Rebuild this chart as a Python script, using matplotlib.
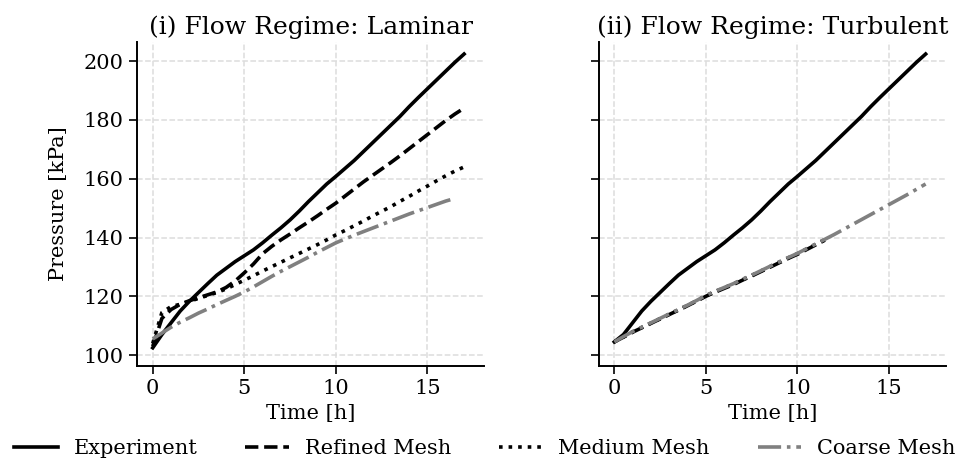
import matplotlib.pyplot as plt
import numpy as np

plt.rcParams['font.family'] = 'DejaVu Serif'

# Time axis [h], 0.5 h steps
time = np.arange(0, 17.5, 0.5)

# Measured pressure [kPa] (same run for both regimes, start value differs)
exp_laminar = [102.5, 107.0, 111.0, 115.0, 118.3, 121.3, 124.3, 127.2, 129.5, 131.8,
               133.8, 135.8, 138.2, 140.8, 143.3, 146.0, 149.0, 152.2, 155.2, 158.2,
               160.8, 163.5, 166.2, 169.2, 172.2, 175.2, 178.2, 181.2, 184.5, 187.6,
               190.6, 193.6, 196.6, 199.6, 202.4]
exp_turbulent = [104.5] + exp_laminar[1:]

# Laminar simulations
refined_laminar = [103.0, 112.5, 115.5, 117.3, 118.5, 119.5, 120.5, 121.5, 123.0, 125.2,
                   128.0, 131.0, 134.5, 137.0, 139.2, 141.2, 143.3, 145.3, 147.4, 149.6,
                   151.7, 154.1, 156.5, 158.9, 161.1, 163.3, 165.5, 167.8, 170.2, 172.6,
                   175.0, 177.4, 179.8, 182.0, 184.0]
medium_laminar = [104.0, 114.5, 116.5, 117.3, 118.3, 119.3, 120.3, 121.3, 122.5, 124.0,
                  125.5, 127.0, 128.6, 130.1, 131.6, 133.1, 134.6, 136.1, 137.6, 139.2,
                  140.9, 142.4, 144.0, 145.6, 147.3, 148.9, 150.5, 152.3, 154.0, 155.8,
                  157.5, 159.3, 161.0, 162.6, 164.0]
coarse_laminar = [105.5, 107.5, 109.5, 111.2, 112.7, 114.3, 115.7, 117.2, 118.6, 120.0,
                  121.5, 123.2, 125.0, 126.8, 128.5, 130.1, 131.7, 133.3, 135.0, 136.6,
                  138.2, 139.5, 140.8, 142.0, 143.2, 144.4, 145.6, 146.8, 148.0, 149.1,
                  150.2, 151.3, 152.4, 153.3]

# Turbulent simulations (refined/medium stop early)
refined_turbulent = [104.5, 106.1, 107.8, 109.3, 110.8, 112.3, 113.8, 115.3, 116.8, 118.4,
                     120.0, 121.4, 122.7, 124.0, 125.5, 126.9, 128.4, 129.9, 131.4, 132.9,
                     134.3, 135.9, 137.5, 139.1]
medium_turbulent = [104.5, 106.2, 107.9, 109.4, 110.9, 112.4, 113.9, 115.4, 116.9, 118.5,
                    120.2, 121.6, 122.9, 124.2, 125.7, 127.1, 128.6, 130.1, 131.6, 133.1,
                    134.5, 136.1, 137.7, 139.3]
coarse_turbulent = [104.5, 106.3, 108.0, 109.5, 111.0, 112.5, 114.0, 115.5, 117.0, 118.6,
                    120.3, 121.7, 123.0, 124.3, 125.8, 127.2, 128.7, 130.2, 131.7, 133.2,
                    134.6, 136.2, 137.8, 139.4, 141.0, 142.7, 144.4, 146.1, 147.8, 149.5,
                    151.2, 152.9, 154.6, 156.4, 158.2]

titles = ['(i) Flow Regime: Laminar', '(ii) Flow Regime: Turbulent']
labels = ['Experiment', 'Refined Mesh', 'Medium Mesh', 'Coarse Mesh']

fig, axs = plt.subplots(1, 2, figsize=(9.56, 4.65), dpi=100, sharey=True)
fig.subplots_adjust(left=0.1433, right=0.9895, bottom=0.2129, top=0.9097, wspace=0.3285)

panels = [
    (exp_laminar, refined_laminar, medium_laminar, coarse_laminar),
    (exp_turbulent, refined_turbulent, medium_turbulent, coarse_turbulent),
]

lw = 2.6
for ax, (exp, ref, med, coa), title in zip(axs, panels, titles):
    ax.plot(time[:len(exp)], exp, color='black', lw=lw, ls='-', label=labels[0])
    ax.plot(time[:len(ref)], ref, color='black', lw=lw, ls='--', label=labels[1])
    ax.plot(time[:len(med)], med, color='black', lw=lw, ls=':', label=labels[2])
    ax.plot(time[:len(coa)], coa, color='gray', lw=lw, ls='-.', label=labels[3])
    ax.set_title(title, fontsize=18)
    ax.set_xlabel('Time [h]', fontsize=15)
    ax.set_xlim(-0.86, 18.11)
    ax.set_ylim(96.3, 206.5)
    ax.set_xticks([0, 5, 10, 15])
    ax.set_yticks([100, 120, 140, 160, 180, 200])
    ax.tick_params(labelsize=15, length=6, width=1.2)
    ax.grid(True, ls='--', color='#dddddd', lw=1.1)
    ax.spines['top'].set_visible(False)
    ax.spines['right'].set_visible(False)
    for s in ['left', 'bottom']:
        ax.spines[s].set_linewidth(1.4)

axs[0].set_ylabel('Pressure [kPa]', fontsize=15, labelpad=11)

handles, labs = axs[0].get_legend_handles_labels()
fig.legend(handles, labs, loc='lower center', ncol=4, frameon=False, fontsize=15,
           bbox_to_anchor=(0.507, -0.025), handlelength=2.1, handletextpad=0.75,
           columnspacing=2.3)

fig.savefig('out.png', dpi=100)
